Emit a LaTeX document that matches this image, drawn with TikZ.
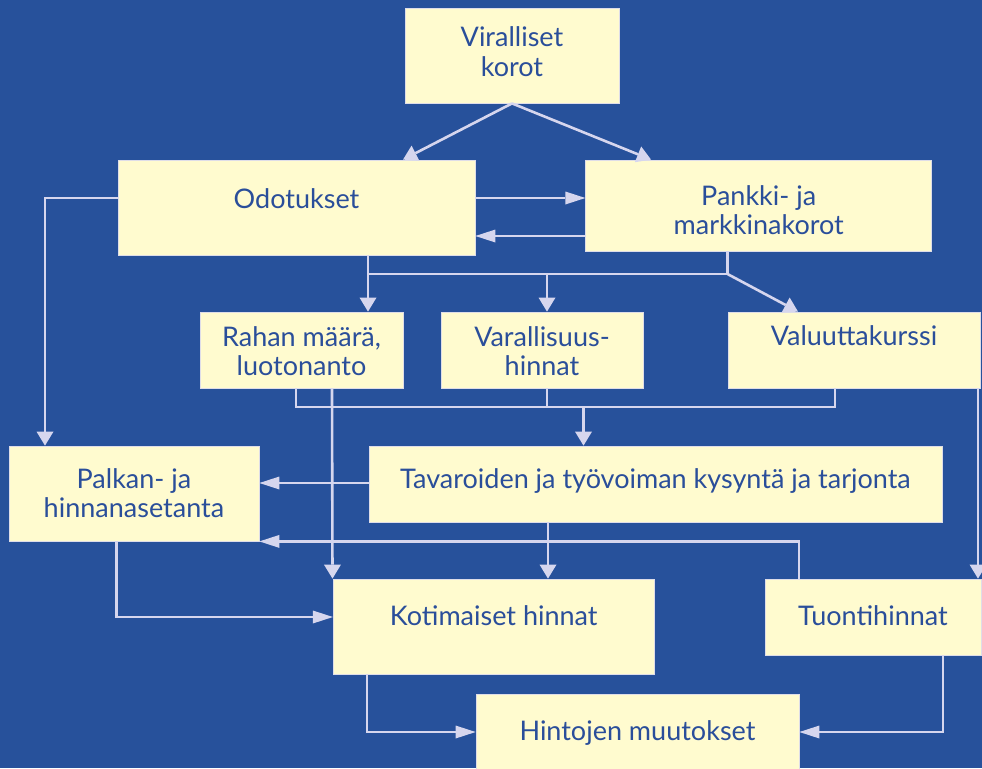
\documentclass[tikz,border=0pt]{standalone}
\usepackage{fontspec}
\setmainfont{Lato}
\usetikzlibrary{arrows.meta}

\definecolor{bgblue}{RGB}{39,81,155}
\definecolor{boxfill}{RGB}{255,251,207}
\definecolor{inkblue}{RGB}{42,78,154}
\definecolor{wirecol}{RGB}{214,214,238}

\begin{document}
\begin{tikzpicture}[
  x=1pt, y=-1pt,
  box/.style={
    rectangle, draw=wirecol!80!boxfill, line width=0.8pt, fill=boxfill,
    text=inkblue, inner sep=0pt, align=center,
    font=\fontsize{27pt}{29pt}\selectfont, text height=20pt
  },
  twoline/.style={text height=#1, text depth=0pt},
  wire/.style={draw=wirecol, line width=2.6pt},
  harrow/.style={wire, -{Triangle[length=20pt, width=13pt, line width=0pt]}},
  varrow/.style={wire, -{Triangle[length=14pt, width=17pt, line width=0pt]}}
]

% === Background ===
\fill[bgblue, use as bounding box] (0,0) rectangle (982,768);

% === Boxes ===
\node[box, minimum width=214pt, minimum height=95pt, twoline=41pt] (vir) at (512,55.5) {Viralliset\\korot};
\node[box, minimum width=357pt, minimum height=95pt, text depth=19pt] (odo) at (296.5,207.5) {Odotukset};
\node[box, minimum width=346pt, minimum height=91pt, twoline=57pt] (pan) at (758.75,205.5) {Pankki- ja\\markkinakorot};

\node[box, minimum width=203pt, minimum height=76pt, twoline=50pt] (rah) at (301.5,350) {Rahan määrä,\\luotonanto};
\node[box, minimum width=202pt, minimum height=76pt, twoline=50pt] (var) at (542,350) {Varallisuus-\\hinnat};
\node[box, minimum width=252pt, minimum height=76pt, text depth=29pt] (val) at (854,350) {Valuuttakurssi};

\node[box, minimum width=250pt, minimum height=95pt, twoline=47pt] (pal) at (134,493.5) {Palkan- ja\\hinnanasetanta};
\node[box, minimum width=573pt, minimum height=76pt, text depth=12pt] (tav) at (655.5,484) {Tavaroiden ja työvoiman kysyntä ja tarjonta};

\node[box, minimum width=321pt, minimum height=95pt, text depth=23pt] (kot) at (493.75,626.5) {Kotimaiset hinnat};
\node[box, minimum width=216pt, minimum height=76pt, text depth=4pt] (tuo) at (873,617) {Tuontihinnat};
\node[box, minimum width=323pt, minimum height=76pt, text depth=4pt] (hin) at (637.5,732) {Hintojen muutokset};

% === Junction points ===
\coordinate (jtop) at (547,274);
\coordinate (jpan) at (727.5,274);
\coordinate (jmid) at (583.5,407);

% === Top level ===
\draw[varrow] (vir.south) -- ([xshift=106.5pt]odo.north);
\draw[varrow] (vir.south) -- ([xshift=-107.75pt]pan.north);
\draw[harrow] ([yshift=9.5pt]odo.east) -- ([yshift=7.5pt]pan.west);
\draw[harrow] ([yshift=-30.5pt]pan.west) -- ([yshift=-28.5pt]odo.east);
\draw[varrow] ([yshift=9.5pt]odo.west) -| ([xshift=-89pt]pal.north);

% === Channels ===
\draw[wire] ([xshift=71.5pt]odo.south) |- (jtop) -| ([xshift=-31.25pt]pan.south);
\draw[varrow] ([xshift=71.5pt]odo.south) -- ([xshift=66.5pt]rah.north);
\draw[varrow] (jtop) -- ([xshift=5pt]var.north);
\draw[varrow] (jpan) -- ([xshift=-56pt]val.north);

\draw[wire] ([xshift=-5.5pt]rah.south) |- (jmid) -| ([xshift=-19pt]val.south);
\draw[wire] ([xshift=5pt]var.south) |- (jmid);
\draw[varrow] (jmid) -- ([xshift=-72pt]tav.north);

\draw[varrow] ([xshift=30.5pt]rah.south) -- ([xshift=-161.25pt]kot.north);
\draw[varrow] ([xshift=124pt]val.south) -- ([xshift=105pt]tuo.north);

% === Lower level ===
\draw[harrow] ([yshift=1pt]tav.west) -- ([yshift=10.5pt]pal.east);
\draw[varrow] ([xshift=-107.5pt]tav.south) -- ([xshift=54.25pt]kot.north);
\draw[harrow] ([xshift=-74pt]tuo.north) |- (pal.south east);
\draw[harrow] ([xshift=-17.5pt]pal.south) |- ([yshift=9.5pt]kot.west);
\draw[harrow] ([xshift=-126.75pt]kot.south) |- (hin.west);
\draw[harrow] ([xshift=70pt]tuo.south) |- (hin.east);

\end{tikzpicture}
\end{document}
